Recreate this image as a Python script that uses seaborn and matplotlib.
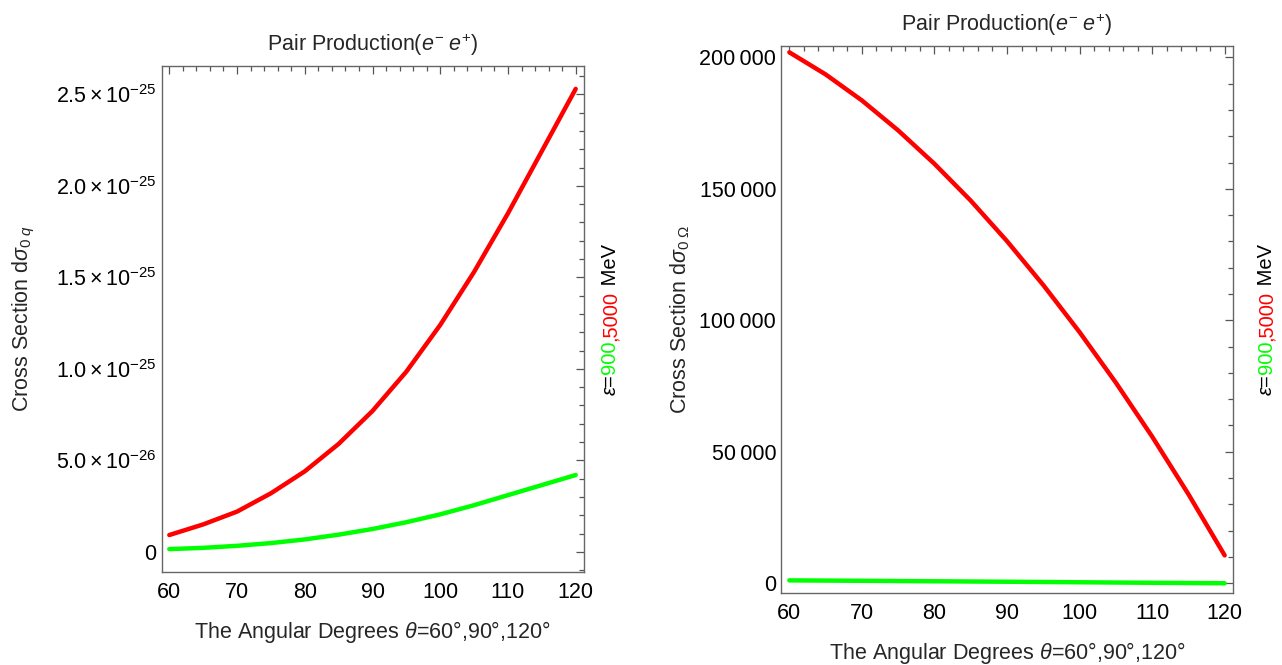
import numpy as np
import pandas as pd
import matplotlib
matplotlib.use("Agg")
import matplotlib.pyplot as plt
from matplotlib.ticker import MultipleLocator, FuncFormatter
import seaborn as sns

# values
angles = [60, 65, 70, 75, 80, 85, 90, 95, 100, 105, 110, 115, 120]
# d sigma_0q, units of 1e-26
sigma_q_900 = [0.15, 0.22, 0.33, 0.48, 0.68, 0.94, 1.25, 1.62, 2.05, 2.55, 3.1, 3.65, 4.2]
sigma_q_5000 = [0.92, 1.5, 2.2, 3.2, 4.4, 5.9, 7.7, 9.85, 12.4, 15.3, 18.5, 21.9, 25.3]
# d sigma_0Omega
sigma_om_900 = [1100, 1020, 940, 850, 760, 670, 580, 480, 380, 280, 180, 90, 10]
sigma_om_5000 = [201900, 193500, 183600, 172200, 159500, 145500, 130100,
                 113400, 95500, 76300, 55800, 33900, 10600]
energies = ["900", "5000"]
palette = {"900": "#00ff00", "5000": "#ff0000"}
xticks = [60, 70, 80, 90, 100, 110, 120]
yticks_q = [0, 5e-26, 1e-25, 1.5e-25, 2e-25, 2.5e-25]
yticks_om = [0, 50000, 100000, 150000, 200000]


def long_df(v900, v5000, scale=1.0):
    rows = []
    for e, vals in zip(energies, [v900, v5000]):
        for a, v in zip(angles, vals):
            rows.append({"angle": a, "value": v * scale, "energy": e})
    return pd.DataFrame(rows)


df_q = long_df(sigma_q_900, sigma_q_5000, 1e-26)
df_om = long_df(sigma_om_900, sigma_om_5000)

sns.set_theme(style="white")
plt.rcParams["font.family"] = ["Liberation Sans", "DejaVu Sans"]
plt.rcParams["mathtext.fontset"] = "custom"
plt.rcParams["mathtext.rm"] = "Liberation Sans"
plt.rcParams["mathtext.it"] = "Liberation Sans:italic"
plt.rcParams["mathtext.bf"] = "Liberation Sans:bold"

FS = 15.5
W, H = 1282, 665
fig = plt.figure(figsize=(W / 100, H / 100), dpi=100)
ax1 = fig.add_axes([161.5 / W, 1 - 572 / H, 422 / W, 506 / H])
ax2 = fig.add_axes([781 / W, 1 - 593 / H, 452 / W, 547 / H])

for ax, df in [(ax1, df_q), (ax2, df_om)]:
    sns.lineplot(data=df, x="angle", y="value", hue="energy", palette=palette,
                 linewidth=3.2, legend=False, ax=ax)
    ax.set_xlim(58.85, 121.15)
    ax.set_xticks(xticks)
    ax.xaxis.set_minor_locator(MultipleLocator(2))
    ax.tick_params(which="both", direction="in", top=True, right=True,
                   color="#555555", width=0.9, labelsize=FS, labelcolor="black")
    ax.tick_params(which="major", length=6)
    ax.tick_params(which="minor", length=3.5)
    ax.tick_params(axis="x", pad=7)
    for sp in ax.spines.values():
        sp.set_color("#666666")
        sp.set_linewidth(1.0)
    ax.set_title("Pair Production($e^{-}\\;e^{+}$)", fontsize=FS, pad=11)
    ax.set_xlabel("The Angular Degrees $\\theta$=60°,90°,120°", fontsize=FS, labelpad=12)


def sci_fmt(v, pos):
    if abs(v) < 1e-40:
        return "0"
    e = int(np.floor(np.log10(abs(v))))
    m = v / 10 ** e
    return "$%.1f\\times10^{%d}$" % (m, e)


ax1.set_ylim(-1.1e-26, 2.655e-25)
ax1.set_yticks(yticks_q)
ax1.yaxis.set_minor_locator(MultipleLocator(1e-26))
ax1.yaxis.set_major_formatter(FuncFormatter(sci_fmt))
ax1.set_ylabel("Cross Section d$\\sigma_{0\\;q}$", fontsize=FS, labelpad=14)

ax2.set_ylim(-3700, 204300)
ax2.set_yticks(yticks_om)
ax2.yaxis.set_minor_locator(MultipleLocator(10000))
ax2.yaxis.set_major_formatter(FuncFormatter(lambda v, p: f"{int(round(v)):,}".replace(",", "\u2009")))
ax2.set_ylabel("Cross Section d$\\sigma_{0\\;\\Omega}$", fontsize=FS, labelpad=5.5)

# vertical multi-coloured energy label beside each panel
parts = [("$\\epsilon$=", "black"), ("900", "#00ff00"), (",5000", "#ff0000"), (" MeV", "black")]
fig.canvas.draw()
renderer = fig.canvas.get_renderer()


def vertical_label(x_px, yc_px):
    texts = []
    for s, c in parts:
        t = fig.text(x_px / W, yc_px / H, s, color=c, fontsize=14.5, rotation=90,
                     rotation_mode="anchor", ha="left", va="baseline")
        texts.append(t)
    lens = [t.get_window_extent(renderer).height for t in texts]
    y = yc_px - sum(lens) / 2
    for t, L in zip(texts, lens):
        t.set_position((x_px / W, y / H))
        y += L


vertical_label(615.5, H - 320)
vertical_label(1272, H - 320)

fig.savefig("out.png", dpi=100)
